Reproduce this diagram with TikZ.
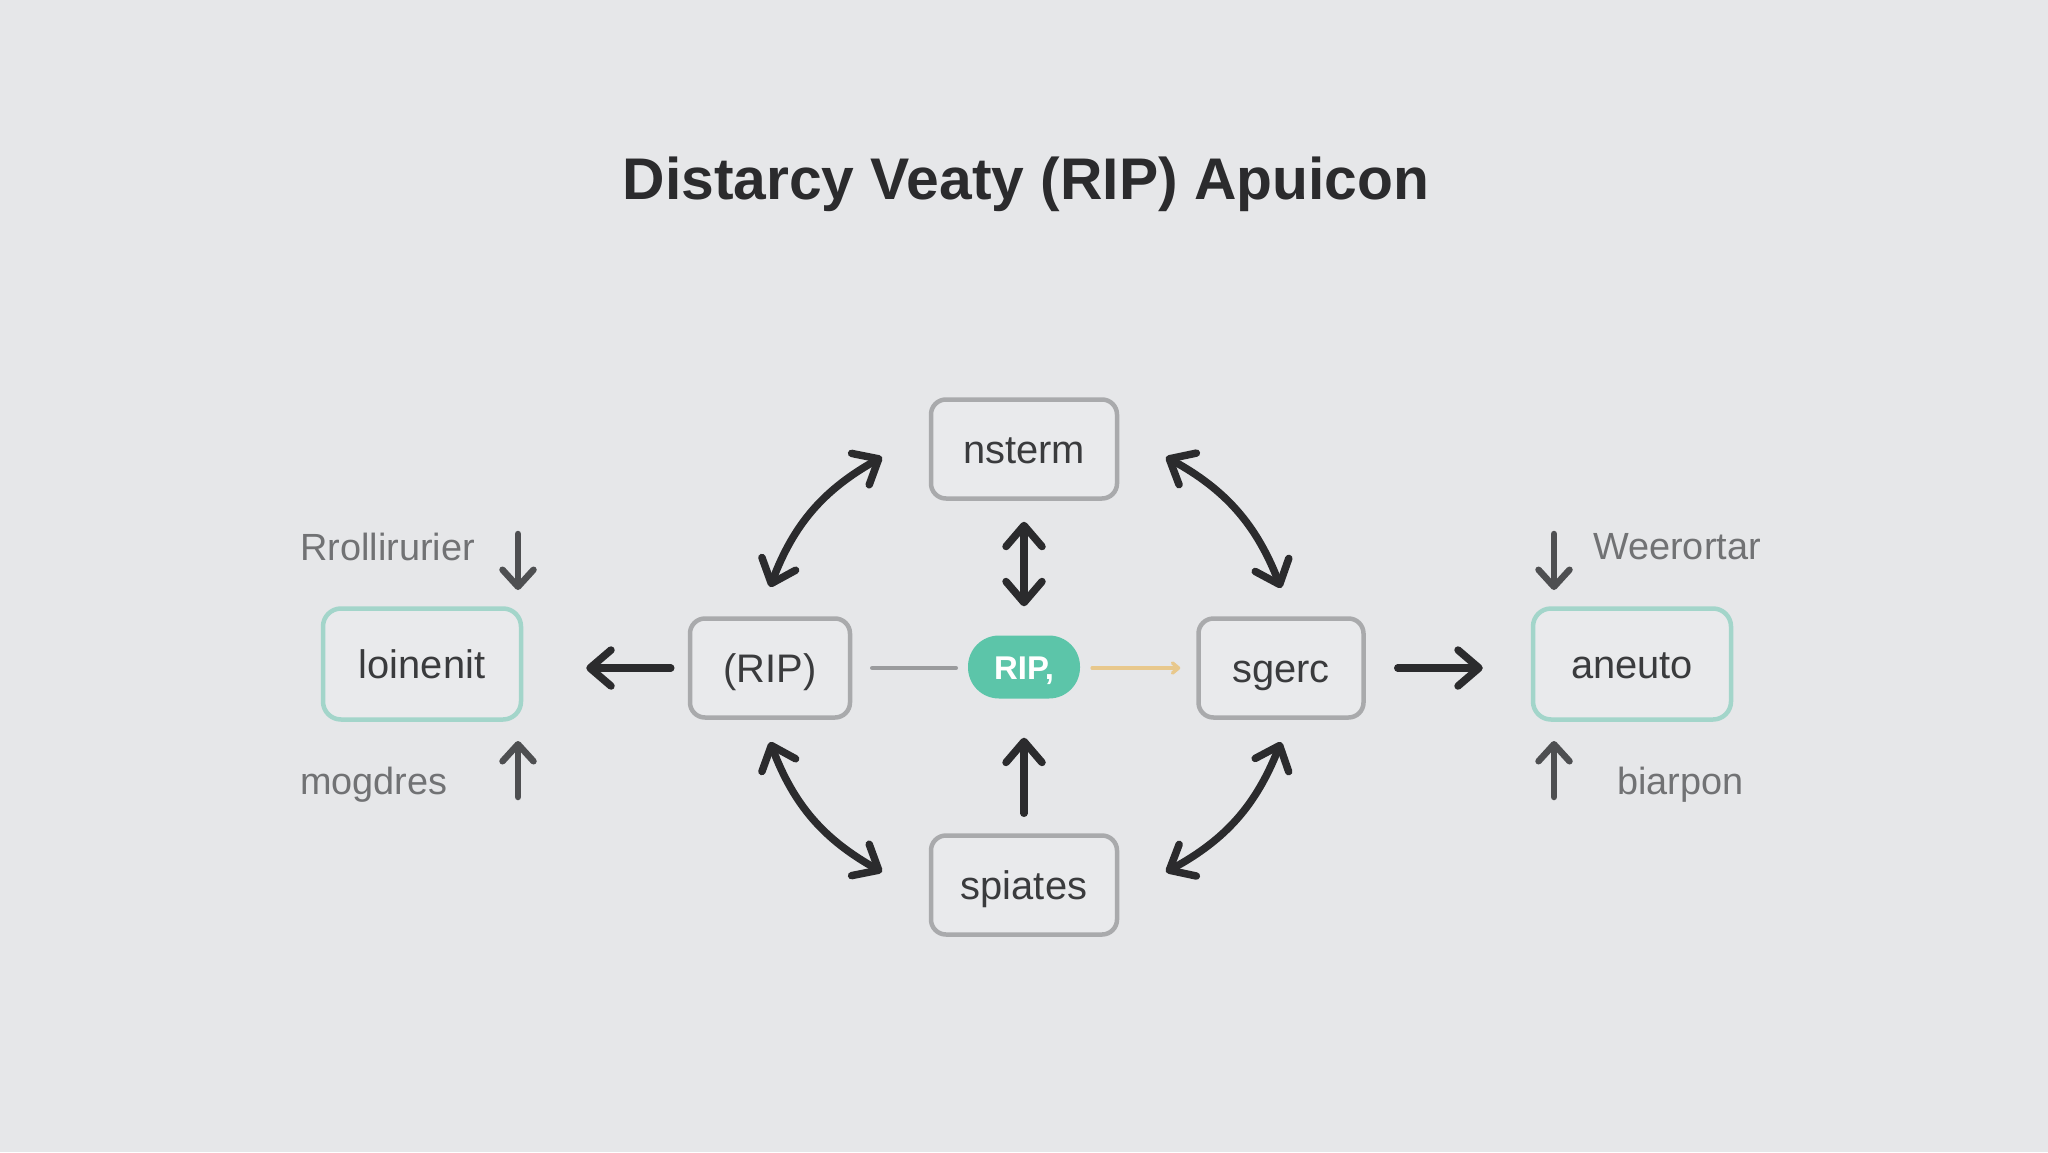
\documentclass[tikz,border=0pt]{standalone}
\usepackage{fontspec}
\setmainfont{Liberation Sans}
\usetikzlibrary{arrows.meta}
\definecolor{bg}{HTML}{E6E7E9}
\definecolor{boxline}{HTML}{A9AAAC}
\definecolor{boxfill}{HTML}{E9EAEC}
\definecolor{tealline}{HTML}{A3D5CA}
\definecolor{pill}{HTML}{5CC5A9}
\definecolor{ink}{HTML}{2B2B2D}
\definecolor{smallink}{HTML}{4E4F51}
\definecolor{nodetext}{HTML}{3A3B3D}
\definecolor{labeltext}{HTML}{717274}
\definecolor{grayline}{HTML}{9A9B9D}
\definecolor{goldline}{HTML}{E8C88C}
\tikzset{
  boxnode/.style={draw=boxline, fill=boxfill, line width=4.5bp, rounded corners=15bp,
    minimum height=99bp, text=nodetext, font=\fontsize{40}{46}\selectfont, inner sep=0pt,
    text height=35bp, text depth=6bp},
  tealnode/.style={draw=tealline, fill=boxfill, line width=4.5bp, rounded corners=18bp,
    minimum width=198bp, minimum height=111bp, text=nodetext, font=\fontsize{40}{46}\selectfont, inner sep=0pt,
    text height=35bp, text depth=6bp},
  pillnode/.style={fill=pill, rounded corners=31bp, minimum width=112bp, minimum height=63bp,
    text=white, font=\bfseries\fontsize{33}{38}\selectfont, inner sep=0pt,
    text height=29bp, text depth=4bp},
  sidelabel/.style={anchor=west, text=labeltext, font=\fontsize{38}{44}\selectfont, inner sep=0pt},
  bigarrow/.style={draw=ink, line width=7.5bp, line cap=round,
    -{Straight Barb[length=21bp,width=36bp,round]}},
  bigdouble/.style={draw=ink, line width=7.5bp, line cap=round,
    {Straight Barb[length=21bp,width=36bp,round]}-{Straight Barb[length=21bp,width=36bp,round]}},
  smallarrow/.style={draw=smallink, line width=6.5bp, line cap=round,
    -{Straight Barb[length=17bp,width=31bp,round]}},
  plainline/.style={draw=grayline, line width=4.5bp, line cap=round},
  goldarrow/.style={draw=goldline, line width=3.5bp, line cap=round,
    -{Straight Barb[length=6bp,width=10bp,round]}}
}
\begin{document}
\begin{tikzpicture}[x=1bp,y=-1bp]
\useasboundingbox (0,0) rectangle (2048,1152);
\fill[bg] (0,0) rectangle (2048,1152);

% title
\node[font=\bfseries\fontsize{59}{66}\selectfont, text=ink, inner sep=0pt] (title) at (1026,184) {Distarcy Veaty (RIP) Apuicon};

% nodes
\node[boxnode, minimum width=186bp] (top) at (1024,449) {nsterm};
\node[boxnode, minimum width=186bp] (bot) at (1024,885) {spiates};
\node[boxnode, minimum width=160bp] (rip) at (770,668) {(RIP)};
\node[boxnode, minimum width=165bp] (sg) at (1281,668) {sgerc};
\node[pillnode] (pill) at (1024,667) {RIP,};
\node[tealnode] (fl) at (422,664) {loinenit};
\node[tealnode] (fr) at (1632,664) {aneuto};

% side labels
\node[sidelabel] (l1) at (300,547) {Rrollirurier};
\node[sidelabel] (l2) at (300,785) {mogdres};
\node[sidelabel] (l3) at (1593,547) {Weerortar};
\node[sidelabel] (l4) at (1617,785) {biarpon};

% horizontal connectors
\draw[bigarrow, shorten <=17bp, shorten >=63bp] (rip.west) -- (rip.west -| fl.east);
\draw[bigarrow, shorten <=32bp, shorten >=48bp] (sg.east) -- (sg.east -| fr.west);
\draw[plainline, shorten <=20bp, shorten >=12bp] (rip.east) -- (rip.east -| pill.west);
\draw[goldarrow, shorten <=12bp, shorten >=16bp] (pill.east |- sg.west) -- (sg.west);

% vertical connectors
\draw[bigdouble, shorten <=21bp, shorten >=29bp] (top.south) -- (pill.north);
\draw[bigarrow, shorten <=20bp, shorten >=39bp] (bot.north) -- (pill.south);

% curved double arrows
\coordinate (tlA) at (770,587);
\coordinate (tlB) at (882,457);
\coordinate (trA) at (1281,588);
\coordinate (trB) at (1166,457);
\coordinate (blA) at (770,742);
\coordinate (blB) at (882,872);
\coordinate (brA) at (1281,742);
\coordinate (brB) at (1166,872);
\draw[bigdouble] (tlA) to[bend left=20] (tlB);
\draw[bigdouble] (trA) to[bend right=20] (trB);
\draw[bigdouble] (blA) to[bend right=20] (blB);
\draw[bigdouble] (brA) to[bend left=20] (brB);

% small side arrows
\coordinate (s1) at (518,534);
\coordinate (s2) at (518,797);
\coordinate (s3) at (1554,534);
\coordinate (s4) at (1554,797);
\draw[smallarrow] (s1) -- (518,590);
\draw[smallarrow] (s2) -- (518,741);
\draw[smallarrow] (s3) -- (1554,590);
\draw[smallarrow] (s4) -- (1554,741);
\end{tikzpicture}
\end{document}
